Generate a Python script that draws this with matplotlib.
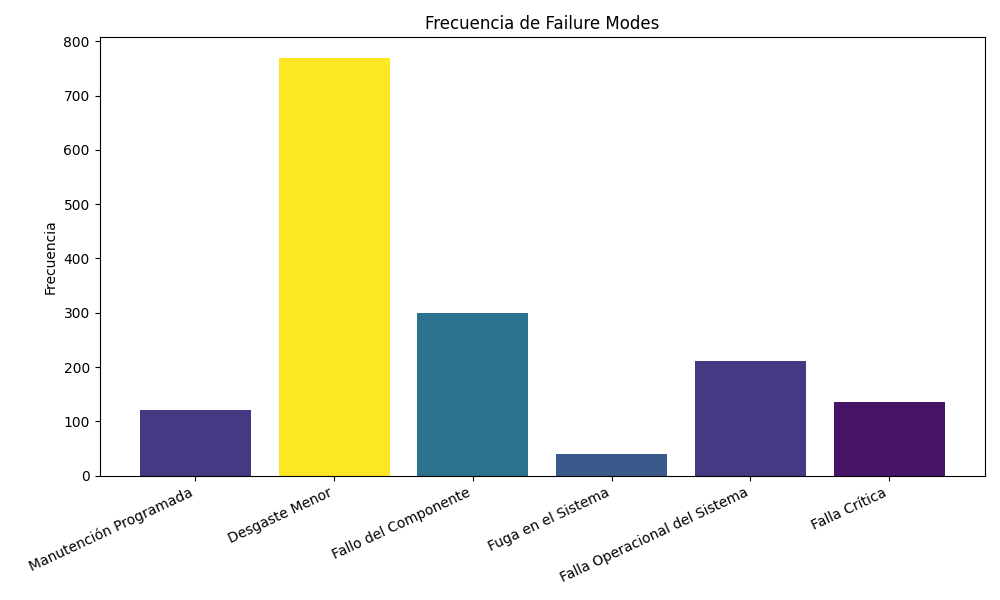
import matplotlib
matplotlib.use("Agg")
import matplotlib.pyplot as plt

modes = [
    "Manutención Programada",
    "Desgaste Menor",
    "Fallo del Componente",
    "Fuga en el Sistema",
    "Falla Operacional del Sistema",
    "Falla Crítica",
]
counts = [121, 769, 300, 40, 212, 136]
bar_colors = ["#443983", "#fde725", "#2c728e", "#3b5a8c", "#443983", "#481467"]

fig, ax = plt.subplots(figsize=(10, 6), dpi=100)
ax.bar(modes, counts, color=bar_colors)
ax.set_title("Frecuencia de Failure Modes")
ax.set_ylabel("Frecuencia")
plt.xticks(rotation=25, ha="right")
fig.tight_layout()
fig.savefig("out.png")
